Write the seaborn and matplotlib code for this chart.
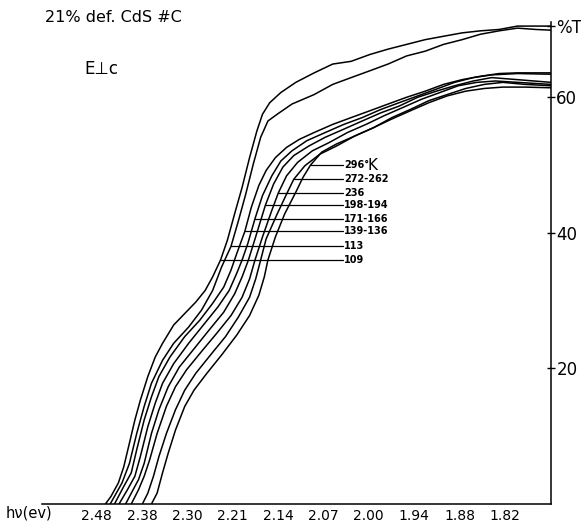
import matplotlib
matplotlib.use("Agg")
import matplotlib.pyplot as plt
import seaborn as sns
import pandas as pd

# ---- data (wavelength in nm along the chart, %T) ----
wl_109 = [503.8, 506.2, 509.5, 511.9, 514.4, 516.8, 519.2, 522.5, 525.8, 529.0, 533.9, 538.8, 543.7, 547.8, 551.1,
          554.6, 557.6, 560.8, 564.1, 567.4, 570.6, 573.1, 576.3, 581.2, 587.8, 595.9, 604.1, 612.2, 620.4, 628.5,
          636.7, 644.9, 653.0, 661.2, 669.3, 677.5, 685.6, 693.8, 700.3]
T_109 = [0, 1.1, 3.1, 5.5, 9.0, 12.4, 15.3, 18.8, 21.7, 23.7, 26.4, 28.1, 29.8, 31.5, 33.5,
         36.0, 38.9, 42.8, 46.7, 51.1, 55.0, 57.5, 59.2, 60.7, 62.2, 63.6, 64.9, 65.3, 66.3, 67.1,
         67.8, 68.5, 69.0, 69.5, 69.8, 70.0, 70.5, 70.5, 70.5]

wl_113 = [505.9, 511.1, 514.4, 517.6, 520.9, 524.1, 529.0, 533.9, 540.5, 546.2, 551.1, 555.1, 559.2, 562.5, 565.7,
          569.0, 572.3, 575.5, 579.6, 586.1, 595.9, 604.1, 612.2, 620.4, 628.5, 636.7, 644.9, 653.0, 661.2, 669.3,
          677.5, 685.6, 693.8, 700.3]
T_113 = [0, 3.1, 6.0, 10.4, 14.4, 17.8, 21.2, 23.7, 26.1, 28.6, 31.5, 35.0, 38.0, 41.8, 45.7,
         50.1, 54.1, 56.5, 57.5, 59.0, 60.4, 61.9, 62.9, 63.9, 64.9, 66.1, 66.8, 67.8, 68.5, 69.3,
         69.8, 70.2, 70.0, 69.9]

wl_139 = [507.8, 511.9, 515.2, 517.6, 520.9, 524.1, 527.4, 532.3, 538.8, 545.4, 551.1, 556.0, 559.2, 561.7, 565.3,
          568.2, 571.5, 574.7, 578.8, 583.7, 589.4, 595.9, 604.1, 612.2, 620.4, 628.5, 636.7, 644.9, 653.0, 661.2,
          669.3, 677.5, 685.6, 700.3]
T_139 = [0, 2.6, 4.6, 8.0, 12.4, 15.8, 18.8, 21.7, 24.7, 27.1, 29.6, 32.0, 34.5, 36.9, 40.2,
         43.8, 47.0, 49.2, 51.1, 52.6, 53.8, 54.8, 56.0, 57.0, 58.0, 59.0, 60.0, 60.9, 61.9, 62.6,
         63.1, 63.5, 63.6, 63.6]

wl_171 = [509.8, 513.5, 516.8, 519.2, 522.5, 525.8, 529.0, 533.9, 540.5, 547.0, 553.5, 558.4, 561.7, 564.1, 566.6,
          569.8, 573.1, 577.2, 581.2, 586.1, 592.7, 600.8, 609.0, 617.1, 625.3, 633.4, 641.6, 649.8, 657.9, 666.1,
          674.2, 685.6, 700.3]
T_171 = [0, 2.1, 4.1, 7.0, 11.4, 14.9, 17.8, 20.7, 23.7, 26.4, 29.1, 31.5, 34.0, 36.0, 38.4,
         42.1, 45.5, 48.4, 50.6, 52.1, 53.6, 54.8, 56.0, 57.0, 58.2, 59.2, 60.2, 61.2, 62.2, 62.9,
         63.3, 63.5, 63.4]

wl_198 = [512.7, 516.0, 518.4, 520.9, 524.1, 527.4, 531.5, 536.4, 542.9, 549.4, 556.0, 560.8, 564.1, 566.9, 569.8,
          574.4, 578.0, 582.1, 586.9, 593.5, 600.8, 609.0, 617.1, 625.3, 633.4, 641.6, 649.8, 657.9, 666.1, 674.2,
          685.6, 700.3]
T_198 = [0, 2.1, 3.6, 6.0, 10.4, 13.9, 17.3, 20.2, 22.9, 25.6, 28.3, 31.0, 33.5, 36.0, 39.1,
         44.1, 47.2, 49.7, 51.4, 52.8, 54.1, 55.3, 56.5, 57.7, 58.7, 60.0, 60.9, 61.7, 62.4, 62.9,
         62.6, 62.2]

wl_236 = [515.2, 518.4, 520.9, 523.3, 526.6, 530.7, 534.7, 539.6, 546.2, 552.7, 559.2, 564.1, 567.4, 569.8, 573.1,
          577.2, 580.1, 583.7, 588.6, 595.1, 602.4, 610.6, 618.8, 626.9, 635.1, 643.2, 651.4, 659.5, 667.7, 675.9,
          685.6, 700.3]
T_236 = [0, 2.1, 4.1, 6.5, 10.4, 14.4, 17.3, 19.8, 22.5, 25.1, 27.8, 30.5, 33.2, 36.0, 39.4,
         43.3, 45.9, 48.4, 50.4, 52.1, 53.3, 54.8, 56.0, 57.3, 58.5, 59.7, 60.7, 61.7, 62.2, 62.4,
         62.2, 61.9]

wl_272 = [520.1, 522.5, 525.0, 527.4, 530.7, 534.7, 538.8, 543.7, 550.2, 556.8, 562.5, 567.4, 570.1, 572.3, 574.7,
          579.6, 583.7, 586.9, 591.8, 598.4, 605.7, 613.9, 622.0, 630.2, 638.3, 646.5, 654.6, 662.8, 671.0, 679.1,
          688.9, 700.3]
T_272 = [0, 1.6, 4.1, 7.0, 10.4, 13.9, 16.8, 19.3, 22.0, 24.7, 27.6, 30.5, 33.2, 36.0, 39.1,
         42.8, 45.7, 47.9, 49.9, 51.6, 52.8, 54.3, 55.5, 57.0, 58.2, 59.5, 60.4, 61.3, 61.9, 62.2,
         61.9, 61.7]

wl_296 = [524.1, 526.6, 529.0, 531.5, 534.7, 538.8, 542.9, 548.6, 555.1, 561.7, 567.4, 571.5, 573.9, 575.5, 578.8,
          582.9, 587.8, 591.0, 594.3, 599.2, 605.7, 613.9, 622.0, 630.2, 638.3, 646.5, 654.6, 662.8, 671.0, 679.1,
          688.9, 700.3]
T_296 = [0, 1.6, 4.6, 7.5, 10.9, 14.4, 16.8, 19.3, 22.0, 24.9, 27.8, 30.8, 33.5, 36.0, 39.4,
         42.8, 46.0, 48.2, 50.0, 51.9, 53.1, 54.3, 55.5, 56.8, 58.0, 59.2, 60.2, 60.9, 61.3, 61.5,
         61.5, 61.4]

curve_labels = ["296\u00b0", "272-262", "236", "198-194", "171-166", "139-136", "113", "109"]
leader_T = [50.0, 47.9, 45.9, 44.1, 42.1, 40.2, 38.0, 36.0]
leader_start = [594.3, 586.9, 580.1, 574.4, 569.8, 565.3, 559.2, 554.6]
leader_end = 608.5

tick_wl = [500, 520, 540, 560, 580, 600, 620, 640, 660, 680]
tick_ev = ["2.48", "2.38", "2.30", "2.21", "2.14", "2.07", "2.00", "1.94", "1.88", "1.82"]
y_ticks = [20, 40, 60, 70.5]
y_tick_labels = ["20", "40", "60", "%T"]

curves = {
    "109": (wl_109, T_109), "113": (wl_113, T_113), "139": (wl_139, T_139), "171": (wl_171, T_171),
    "198": (wl_198, T_198), "236": (wl_236, T_236), "272": (wl_272, T_272), "296": (wl_296, T_296),
}

sns.set_style("white")
plt.rcParams['font.family'] = ['DejaVu Sans']
plt.rcParams['text.color'] = 'black'

fig = plt.figure(figsize=(5.81, 5.23), dpi=100)
ax = fig.add_axes([0.073, 0.0363, 0.875, 0.9216])

for name, (wl, T) in curves.items():
    df = pd.DataFrame({"wl": wl, "T": T})
    sns.lineplot(data=df, x="wl", y="T", ax=ax, color="black", lw=1.1, sort=False, estimator=None)

# leader lines + labels
for lab, yT, xs in zip(curve_labels, leader_T, leader_start):
    ax.plot([xs, leader_end], [yT, yT], color="black", lw=0.9)
    ax.text(leader_end + 0.6, yT, lab, fontsize=7, va="center", ha="left", fontweight="bold")
ax.annotate("K", xy=(leader_end, leader_T[0]), xytext=(25, 0), textcoords="offset pixels",
            fontsize=11, va="center", ha="left")

ax.set_xlim(476, 700.3)
ax.set_ylim(0, 71.1)
ax.spines["top"].set_visible(False)
ax.spines["left"].set_visible(False)
for s in ("right", "bottom"):
    ax.spines[s].set_color("black")
    ax.spines[s].set_linewidth(1.1)

ax.set_xticks(tick_wl)
ax.set_xticklabels(tick_ev, fontsize=10)
ax.yaxis.tick_right()
ax.set_yticks(y_ticks)
ax.set_yticklabels(y_tick_labels, fontsize=12)
ax.tick_params(axis="x", direction="inout", length=5, width=1, pad=1, colors="black")
ax.tick_params(axis="y", direction="inout", length=6, width=1, pad=1, colors="black")
ax.set_xlabel("")
ax.set_ylabel("")

fig.text(0.077, 0.966, "21% def. CdS #C", fontsize=11.5, ha="left", va="center")
fig.text(0.146, 0.868, "E\u22a5c", fontsize=12, ha="left", va="center")
fig.text(0.009, 0.019, "h\u03bd(ev)", fontsize=10.5, ha="left", va="center")

fig.savefig("out.png", dpi=100, facecolor="white")
